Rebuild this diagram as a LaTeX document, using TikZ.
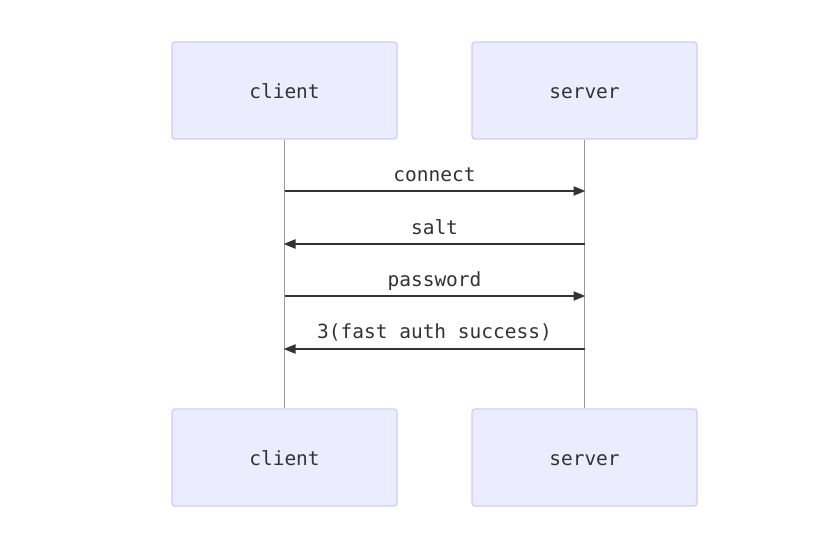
\documentclass[tikz,border=0pt]{standalone}
\usepackage{fontspec}
\setmonofont{DejaVu Sans Mono}
\usetikzlibrary{arrows.meta}
\definecolor{boxfill}{HTML}{ECECFF}
\definecolor{boxdraw}{HTML}{CCCCFF}
\definecolor{ink}{HTML}{333333}
\definecolor{life}{HTML}{999999}
\begin{document}
\begin{tikzpicture}[x=1pt,y=-1pt,
  actor/.style={draw=boxdraw,fill=boxfill,line width=1.3pt,rounded corners=3pt,minimum width=225pt,minimum height=97pt,inner sep=0pt,text height=17pt,text depth=1pt,font=\fontsize{19.5}{22}\ttfamily,text=ink},
  lifeline/.style={draw=life,line width=0.8pt},
  msg/.style={draw=ink,line width=2pt,-{Triangle[length=12pt,width=9pt]}},
  lbl/.style={font=\fontsize{19.5}{22}\ttfamily,text=ink,inner sep=0pt,text height=16pt,text depth=2pt}]
\useasboundingbox (0,0) rectangle (824,557);
\fill[white] (0,0) rectangle (824,557);
\node[actor] (ct) at (284.5,90.5) {client};
\node[actor] (st) at (584.5,90.5) {server};
\node[actor] (cb) at (284.5,457.5) {client};
\node[actor] (sb) at (584.5,457.5) {server};
\draw[lifeline] (ct.south) -- (cb.north);
\draw[lifeline] (st.south) -- (sb.north);
\coordinate (c1) at (284.5,191); \coordinate (s1) at (585.5,191);
\coordinate (c2) at (283.5,244); \coordinate (s2) at (584.5,244);
\coordinate (c3) at (284.5,296); \coordinate (s3) at (585.5,296);
\coordinate (c4) at (283.5,349); \coordinate (s4) at (584.5,349);
\draw[msg] (c1) -- (s1);
\draw[msg] (s2) -- (c2);
\draw[msg] (c3) -- (s3);
\draw[msg] (s4) -- (c4);
\node[lbl] (l1) at (434.5,174) {connect};
\node[lbl] (l2) at (434.5,227) {salt};
\node[lbl] (l3) at (434.5,279) {password};
\node[lbl] (l4) at (434.5,331) {3(fast auth success)};
\end{tikzpicture}
\end{document}
